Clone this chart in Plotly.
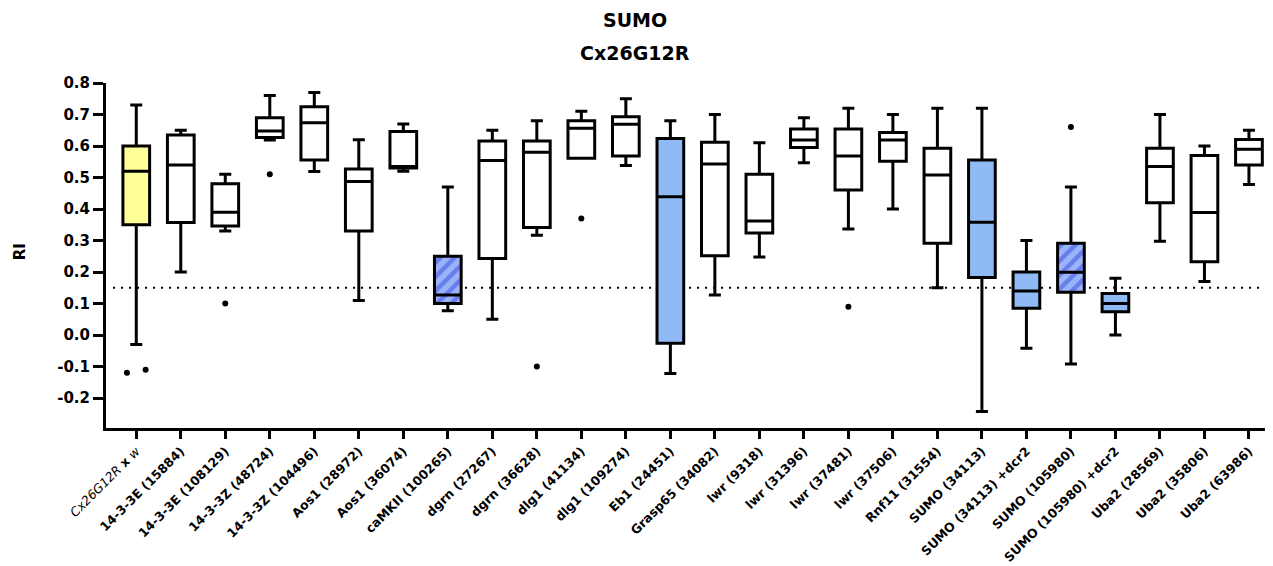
import plotly.graph_objects as go
import numpy as np

categories = [
    "<i>Cx26G12R</i> <b>x</b> <i>w</i>", "14-3-3E (15884)", "14-3-3E (108129)", "14-3-3Z (48724)",
    "14-3-3Z (104496)", "Aos1 (28972)", "Aos1 (36074)", "caMKII (100265)",
    "dgrn (27267)", "dgrn (36628)", "dlg1 (41134)", "dlg1 (109274)", "Eb1 (24451)",
    "Grasp65 (34082)", "lwr (9318)", "lwr (31396)", "lwr (37481)", "lwr (37506)",
    "Rnf11 (31554)", "SUMO (34113)", "SUMO (34113) +dcr2", "SUMO (105980)",
    "SUMO (105980) +dcr2", "Uba2 (28569)", "Uba2 (35806)", "Uba2 (63986)",
]
upper = [0.73, 0.65, 0.51, 0.76, 0.77, 0.62, 0.67, 0.47, 0.65, 0.68, 0.71, 0.75, 0.68,
         0.70, 0.61, 0.69, 0.72, 0.70, 0.72, 0.72, 0.30, 0.47, 0.18, 0.70, 0.60, 0.65]
q3 = [0.60, 0.635, 0.48, 0.69, 0.725, 0.527, 0.646, 0.25, 0.616, 0.616, 0.68, 0.693, 0.624,
      0.612, 0.51, 0.654, 0.654, 0.643, 0.593, 0.556, 0.20, 0.291, 0.132, 0.593, 0.57, 0.621]
median = [0.52, 0.54, 0.39, 0.648, 0.674, 0.487, 0.535, 0.127, 0.554, 0.58, 0.656, 0.669, 0.439,
          0.543, 0.362, 0.619, 0.568, 0.619, 0.508, 0.358, 0.14, 0.199, 0.10, 0.535, 0.389, 0.59]
q1 = [0.35, 0.357, 0.346, 0.627, 0.556, 0.33, 0.53, 0.10, 0.243, 0.341, 0.561, 0.568, -0.026,
      0.252, 0.324, 0.595, 0.46, 0.552, 0.291, 0.183, 0.085, 0.136, 0.074, 0.42, 0.233, 0.54]
lower = [-0.03, 0.20, 0.33, 0.619, 0.519, 0.11, 0.52, 0.077, 0.05, 0.317, 0.561, 0.538, -0.122,
         0.127, 0.248, 0.547, 0.337, 0.40, 0.15, -0.243, -0.042, -0.092, 0.0, 0.298, 0.17, 0.478]
# outliers: category index -> values
outliers = {0: [-0.12, -0.11], 2: [0.10], 3: [0.51], 9: [-0.10], 10: [0.37], 16: [0.09], 21: [0.66]}
# fill style per category
style = ["control"] + ["none"] * 6 + ["hatched"] + ["none"] * 4 + ["solid"] + ["none"] * 6 + \
        ["solid", "solid", "hatched", "solid"] + ["none"] * 3
threshold = 0.15
yticks = [-0.2, -0.1, 0.0, 0.1, 0.2, 0.3, 0.4, 0.5, 0.6, 0.7, 0.8]

FONT = "DejaVu Sans"
fills = {"control": "#FFFF99", "none": "#FFFFFF", "solid": "#8FBAF5", "hatched": "rgba(0,0,0,0)"}
BOXW = 0.6

fig = go.Figure()
xs = list(range(len(categories)))

# hatched fills as bars underneath boxes
for i in xs:
    if style[i] == "hatched":
        fig.add_trace(go.Bar(
            x=[i], y=[q3[i] - q1[i]], base=[q1[i]], width=BOXW,
            marker=dict(color="#9AB4F8", line=dict(width=0),
                        pattern=dict(shape="/", fgcolor="#3347E0", bgcolor="#9AB4F8",
                                     size=10, solidity=0.45)),
            showlegend=False, hoverinfo="skip"))

for i in xs:
    fig.add_trace(go.Box(
        x=[i], q1=[q1[i]], median=[median[i]], q3=[q3[i]],
        lowerfence=[lower[i]], upperfence=[upper[i]],
        width=BOXW, whiskerwidth=0.45, boxpoints=False,
        fillcolor=fills[style[i]], line=dict(color="black", width=3),
        showlegend=False))

ox, oy = [], []
for i, vals in outliers.items():
    n = len(vals)
    offs = np.linspace(-0.21, 0.21, n) if n > 1 else [0.0]
    for o, v in zip(offs, vals):
        ox.append(i + o)
        oy.append(v)
fig.add_trace(go.Scatter(x=ox, y=oy, mode="markers",
                         marker=dict(color="black", size=6), showlegend=False))

fig.add_shape(type="line", xref="paper", yref="y", x0=0.006, x1=1, y0=threshold, y1=threshold,
              line=dict(color="black", width=2, dash="2px,6px"), layer="below")

fig.update_layout(
    width=1273, height=566,
    margin=dict(l=98, r=0, t=75, b=146),
    paper_bgcolor="white", plot_bgcolor="white",
    barmode="overlay", boxmode="overlay",
    font=dict(family=FONT, color="black"),
    xaxis=dict(range=[-0.68, 25.72], tickmode="array", tickvals=xs,
               ticktext=[c if c.startswith("<i>") else "<b>" + c + "</b>" for c in categories],
               tickangle=-45, tickfont=dict(family=FONT, size=12.5, color="black"),
               showline=True, linewidth=3, linecolor="black", ticks="outside",
               ticklen=8, tickwidth=3, tickcolor="black", showgrid=False, zeroline=False,
               automargin=False),
    yaxis=dict(range=[-0.295, 0.8], tickmode="array", tickvals=yticks,
               ticktext=["<b>%.1f</b>" % v for v in yticks],
               tickfont=dict(family=FONT, size=15, color="black"),
               showline=True, linewidth=3, linecolor="black", ticks="outside",
               ticklen=10, tickwidth=3, tickcolor="black", showgrid=False, zeroline=False,
               automargin=False),
    annotations=[
        dict(text="<b>SUMO</b>", xref="paper", yref="paper", x=0.450, y=1.182,
             showarrow=False, font=dict(family=FONT, size=19), xanchor="center", yanchor="middle"),
        dict(text="<b>Cx26G12R</b>", xref="paper", yref="paper", x=0.450, y=1.087,
             showarrow=False, font=dict(family=FONT, size=19), xanchor="center", yanchor="middle"),
        dict(text="<b>RI</b>", xref="paper", yref="paper", x=-0.073, y=0.51, textangle=-90,
             showarrow=False, font=dict(family=FONT, size=15), xanchor="center", yanchor="middle"),
    ],
)

fig.write_html("out.html")
